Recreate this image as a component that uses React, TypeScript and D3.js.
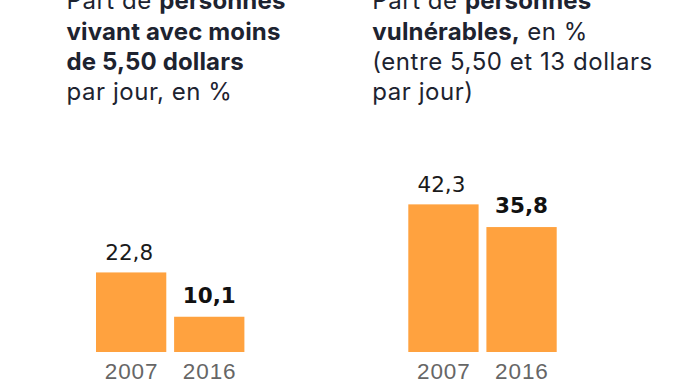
import React from "react";
import * as d3 from "d3";

const years = ["2007", "2016"];
const poorValues = [22.8, 10.1];
const vulnerableValues = [42.3, 35.8];
const valueLabels1 = ["22,8", "10,1"];
const valueLabels2 = ["42,3", "35,8"];

const W = 688;
const H = 385;
const BAR = "#ffa23f";
const TEXT = "#1d2330";

type Seg = { t: string; b?: boolean };

const title1: Seg[][] = [
  [{ t: "Part de " }, { t: "personnes", b: true }],
  [{ t: "vivant avec moins", b: true }],
  [{ t: "de 5,50 dollars", b: true }],
  [{ t: "par jour, en %" }],
];
const title2: Seg[][] = [
  [{ t: "Part de " }, { t: "personnes", b: true }],
  [{ t: "vulnérables,", b: true }, { t: " en %" }],
  [{ t: "(entre 5,50 et 13 dollars" }],
  [{ t: "par jour)" }],
];

const y = d3.scaleLinear().domain([0, 50]).range([352, 352 - 174.5]);

function Panel({ x0, tx, values, labels, title }: { x0: number; tx: number; values: number[]; labels: string[]; title: Seg[][] }) {
  const x = d3.scaleBand().domain(years).range([x0, x0 + 148.4]).paddingInner(0.1).paddingOuter(0);
  return (
    <g>
      {title.map((line, i) => (
        <text key={i} x={tx} y={9.3 + i * 30.2} fontFamily="Inter, 'Noto Sans', sans-serif" fontSize={24} fill={TEXT}>
          {line.map((s, j) => (
            <tspan key={j} fontWeight={s.b ? 700 : 400} letterSpacing={s.b ? 0.15 : 0.55}>{s.t}</tspan>
          ))}
        </text>
      ))}
      {years.map((yr, i) => {
        const bx = x(yr)!;
        const top = y(values[i]);
        const bold = i === 1;
        const cx = bx + x.bandwidth() / 2;
        return (
          <g key={yr}>
            <rect x={bx} y={top} width={x.bandwidth()} height={y(0) - top} fill={BAR} />
            <text x={bold ? cx : cx - 2} y={top - (bold ? 14 : 12.5)} textAnchor="middle"
              fontFamily="'DejaVu Sans', sans-serif" fontSize={21.5} fontWeight={bold ? 700 : 400}
              fill={bold ? "#111" : "#1a1a1a"}>{labels[i]}</text>
            <text x={cx + 0.4} y={378.5} textAnchor="middle"
              fontFamily="'Liberation Sans', Arial, sans-serif" fontSize={22.5} letterSpacing={0.9} fill="#666">{yr}</text>
          </g>
        );
      })}
    </g>
  );
}

export default function App() {
  return (
    <div style={{ position: "absolute", left: 0, top: 0 }}>
      <svg width={W} height={H} style={{ display: "block", background: "#fff" }}>
        <Panel x0={96} tx={66.5} values={poorValues} labels={valueLabels1} title={title1} />
        <Panel x0={408.3} tx={372.3} values={vulnerableValues} labels={valueLabels2} title={title2} />
      </svg>
    </div>
  );
}
